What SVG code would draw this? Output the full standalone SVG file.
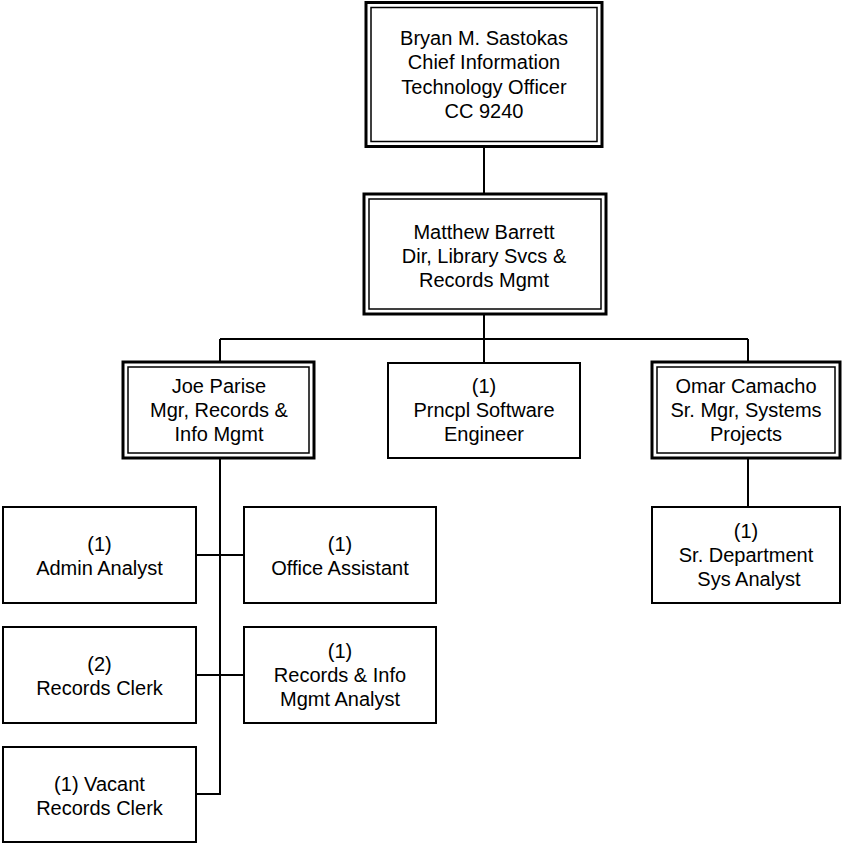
<svg xmlns="http://www.w3.org/2000/svg" width="844" height="843" viewBox="0 0 844 843">
<style>
.box{fill:#fff;stroke:#000;stroke-width:2}
.outer{fill:#fff;stroke:#000;stroke-width:3}
.inner{fill:none;stroke:#000;stroke-width:1.5}
.conn{fill:none;stroke:#000;stroke-width:2}
text{font-family:"Liberation Sans",Arial,sans-serif;font-size:20px;fill:#000;text-anchor:middle}
</style>
<rect width="844" height="843" fill="#fff"/>
<g id="connectors">
<path class="conn" d="M484 147V194"/>
<path class="conn" d="M484 314V339M220 339H748M220 339V362M484 339V363M748 339V362"/>
<path class="conn" d="M748 458V507"/>
<path class="conn" d="M220 458V794H196M196 555H244M196 675H244"/>
</g>
<g id="n-sastokas">
<rect class="outer" x="366" y="2.5" width="236" height="144"/>
<rect class="inner" x="371" y="7.5" width="226" height="134"/>
<text x="484" y="45">Bryan M. Sastokas</text>
<text x="484" y="69">Chief Information</text>
<text x="484" y="94">Technology Officer</text>
<text x="484" y="118">CC 9240</text>
</g>
<g id="n-barrett">
<rect class="outer" x="364" y="194" width="242" height="120"/>
<rect class="inner" x="369" y="199" width="232" height="110"/>
<text x="484" y="239">Matthew Barrett</text>
<text x="484" y="263">Dir, Library Svcs &amp;</text>
<text x="484" y="287">Records Mgmt</text>
</g>
<g id="n-parise">
<rect class="outer" x="123" y="362" width="191" height="96"/>
<rect class="inner" x="128" y="367" width="181" height="86"/>
<text x="219" y="393">Joe Parise</text>
<text x="219" y="417">Mgr, Records &amp;</text>
<text x="219" y="441">Info Mgmt</text>
</g>
<g id="n-software">
<rect class="box" x="388" y="363" width="192" height="95"/>
<text x="484" y="393">(1)</text>
<text x="484" y="417">Prncpl Software</text>
<text x="484" y="441">Engineer</text>
</g>
<g id="n-camacho">
<rect class="outer" x="652" y="362" width="188" height="96"/>
<rect class="inner" x="657" y="367" width="178" height="86"/>
<text x="746" y="393">Omar Camacho</text>
<text x="746" y="417">Sr. Mgr, Systems</text>
<text x="746" y="441">Projects</text>
</g>
<g id="n-sysanalyst">
<rect class="box" x="652" y="507" width="188" height="96"/>
<text x="746" y="538">(1)</text>
<text x="746" y="562">Sr. Department</text>
<text x="749" y="586">Sys Analyst</text>
</g>
<g id="n-admin">
<rect class="box" x="3" y="507" width="193" height="96"/>
<text x="99.5" y="551">(1)</text>
<text x="99.5" y="575">Admin Analyst</text>
</g>
<g id="n-office">
<rect class="box" x="244" y="507" width="192" height="96"/>
<text x="340" y="551">(1)</text>
<text x="340" y="575">Office Assistant</text>
</g>
<g id="n-clerk">
<rect class="box" x="3" y="627" width="193" height="96"/>
<text x="99.5" y="671">(2)</text>
<text x="99.5" y="695">Records Clerk</text>
</g>
<g id="n-rimanalyst">
<rect class="box" x="244" y="627" width="192" height="96"/>
<text x="340" y="658">(1)</text>
<text x="340" y="682">Records &amp; Info</text>
<text x="340" y="706">Mgmt Analyst</text>
</g>
<g id="n-vacant">
<rect class="box" x="3" y="747" width="193" height="95"/>
<text x="99.5" y="791">(1) Vacant</text>
<text x="99.5" y="815">Records Clerk</text>
</g>
</svg>
